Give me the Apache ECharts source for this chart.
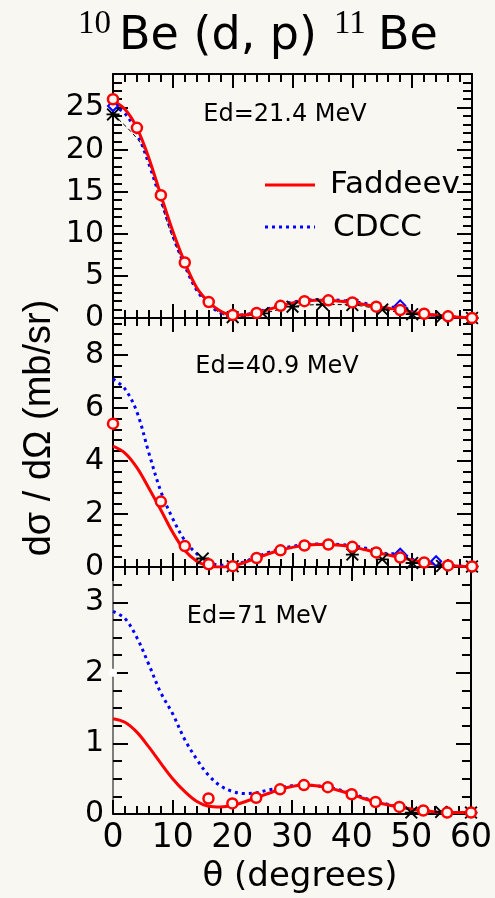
<!DOCTYPE html>
<html>
<head>
<meta charset="utf-8">
<script src="https://cdn.jsdelivr.net/npm/echarts@6/dist/echarts.min.js"></script>
<style>
  html, body { margin: 0; padding: 0; background: #f8f7f2; }
  #chart { width: 495px; height: 898px; }
</style>
</head>
<body>
<div id="chart"></div>
<script>
// Scattering angle grid for the calculated curves (degrees)
const angles = [0, 2, 4, 6, 8, 10, 12, 14, 16, 18, 20, 22, 24, 26, 28, 30,
                32, 34, 36, 38, 40, 42, 44, 46, 48, 50, 52, 54, 56, 58, 60];

// Ed = 21.4 MeV
const faddeev21 = [25.8, 24.8, 22.6, 19.0, 14.6, 10.3, 6.6, 3.6, 1.9, 0.8, 0.35,
                   0.35, 0.6, 1.0, 1.45, 1.8, 2.0, 2.1, 2.1, 2.0, 1.85, 1.6, 1.35,
                   1.15, 0.95, 0.7, 0.5, 0.35, 0.2, 0.1, 0.0];
const cdcc21 = [25.2, 24.3, 22.0, 18.3, 14.0, 9.8, 6.2, 3.3, 1.6, 0.6, 0.3,
                0.4, 0.7, 1.1, 1.55, 1.9, 2.1, 2.2, 2.2, 2.1, 1.95, 1.75, 1.45,
                1.2, 1.45, 0.75, 0.5, 0.3, 0.15, 0.08, 0.0];
const circAng21 = [0, 4, 8, 12, 16, 20, 24, 28, 32, 36, 40, 44, 48, 52, 56, 60];
const circ21 = [26.0, 22.6, 14.6, 6.6, 1.9, 0.35, 0.6, 1.45, 2.0, 2.1, 1.85, 1.35, 0.95, 0.5, 0.2, 0.0];
// dashed reference curve (5-degree steps) and its visible asterisk markers
const dashAng21 = [0, 5, 10, 15, 20, 25, 30, 35, 40, 45, 50, 55, 60];
const dash21 = [24.2, 20.3, 9.5, 2.4, 0.1, 0.55, 1.35, 1.6, 1.55, 1.0, 0.45, 0.15, 0.0];
const starAng21 = [0, 20, 25, 30, 35, 40, 45, 50, 55, 60];
const star21 = [24.2, 0.1, 0.55, 1.35, 1.6, 1.55, 1.0, 0.45, 0.15, 0.0];
const diaAng21 = [0, 48, 60];
const dia21 = [25.2, 1.5, 0.0];

// Ed = 40.9 MeV
const faddeev41 = [4.56, 4.3, 3.75, 2.97, 2.15, 1.3, 0.62, 0.22, 0.04, 0.0, 0.03,
                   0.17, 0.34, 0.5, 0.63, 0.74, 0.81, 0.85, 0.85, 0.82, 0.76, 0.66,
                   0.55, 0.45, 0.36, 0.26, 0.17, 0.1, 0.06, 0.03, 0.02];
const cdcc41 = [7.1, 6.72, 5.85, 4.3, 2.85, 1.82, 1.0, 0.5, 0.18, 0.07, 0.08,
                0.2, 0.38, 0.55, 0.68, 0.78, 0.84, 0.87, 0.87, 0.85, 0.8, 0.72,
                0.62, 0.5, 0.5, 0.3, 0.18, 0.22, 0.08, 0.04, 0.02];
const circAng41 = [0, 8, 12, 16, 20, 24, 28, 32, 36, 40, 44, 48, 52, 56, 60];
const circ41 = [5.41, 2.47, 0.79, 0.1, 0.03, 0.34, 0.63, 0.81, 0.85, 0.76, 0.55, 0.36, 0.17, 0.06, 0.02];
const starAng41 = [15, 20, 40, 45, 50, 55, 60];
const star41 = [0.32, 0.03, 0.47, 0.29, 0.15, 0.04, 0.02];
const diaAng41 = [48, 54, 60];
const dia41 = [0.5, 0.22, 0.02];

// Ed = 71 MeV
const faddeev71 = [1.35, 1.3, 1.16, 0.95, 0.72, 0.5, 0.32, 0.18, 0.11, 0.1, 0.12,
                   0.17, 0.23, 0.29, 0.35, 0.39, 0.41, 0.4, 0.37, 0.33, 0.28, 0.22,
                   0.17, 0.13, 0.1, 0.07, 0.05, 0.03, 0.02, 0.02, 0.02];
const cdcc71 = [2.87, 2.77, 2.5, 2.12, 1.72, 1.42, 1.06, 0.78, 0.55, 0.4, 0.32,
                0.29, 0.3, 0.34, 0.37, 0.4, 0.41, 0.4, 0.38, 0.34, 0.29, 0.23,
                0.18, 0.14, 0.1, 0.07, 0.05, 0.03, 0.02, 0.02, 0.02];
const circAng71 = [16, 20, 24, 28, 32, 36, 40, 44, 48, 52, 56, 60];
const circ71 = [0.22, 0.15, 0.23, 0.35, 0.41, 0.38, 0.28, 0.17, 0.1, 0.05, 0.02, 0.02];
const starAng71 = [50, 55, 60];
const star71 = [0.02, 0.03, 0.02];
const dotAng71 = [0];
const dot71 = [2.0];

// Axis ranges per panel
const panelLabels = ['Ed=21.4 MeV', 'Ed=40.9 MeV', 'Ed=71 MeV'];
const yMax = [29, 9.4, 3.5];
const yStep = [5, 2, 1];
const yMinorSplit = [5, 5, 4];
const xTicks = [0, 10, 20, 30, 40, 50, 60];

const BG = '#f8f7f2';
const FONT = 'DejaVu Sans';
const RED = '#ff0000';
const BLUE = '#0000ff';

const asterisk = 'path://M0,4.3 L10,4.3 L10,5.7 L0,5.7 Z M1,0 L10,9 L9,10 L0,1 Z M9,0 L10,1 L1,10 L0,9 Z';

const panels = [
  { top: 74, height: 244 },
  { top: 318, height: 249 },
  { top: 567, height: 247 }
];

const pairs = (xs, ys) => xs.map((x, k) => [x, ys[k]]);

const grids = [], xAxes = [], yAxes = [], series = [];

panels.forEach((p, i) => {
  grids.push({ left: 113, right: 23, top: p.top, height: p.height, containLabel: false });
  const common = {
    gridIndex: i, type: 'value', min: 0, max: 60, interval: 10,
    axisLine: { onZero: false, lineStyle: { color: '#000', width: 2 } },
    axisTick: { inside: true, length: 14, lineStyle: { color: '#000', width: 2 } },
    minorTick: { show: true, splitNumber: 5, length: 8, lineStyle: { color: '#000', width: 2 } },
    splitLine: { show: false }
  };
  xAxes.push(Object.assign({}, common, {
    position: 'bottom',
    axisLabel: {
      show: i === 2, color: '#000', fontFamily: FONT, fontSize: 33, margin: 8,
      formatter: v => (xTicks.indexOf(v) >= 0 ? String(v) : '')
    }
  }));
  xAxes.push(Object.assign({}, common, { position: 'top', axisLabel: { show: false } }));

  const ycommon = {
    gridIndex: i, type: 'value', min: 0, max: yMax[i], interval: yStep[i],
    axisLine: { onZero: false, lineStyle: { color: '#000', width: 2 } },
    axisTick: { inside: true, length: 15, lineStyle: { color: '#000', width: 2 } },
    minorTick: { show: true, splitNumber: yMinorSplit[i], length: 9, lineStyle: { color: '#000', width: 2 } },
    splitLine: { show: false }
  };
  yAxes.push(Object.assign({}, ycommon, {
    position: 'left',
    axisLine: { onZero: false, lineStyle: { color: i === 2 ? '#555' : '#000', width: i === 2 ? 1.5 : 2 } },
    axisLabel: { color: '#000', fontFamily: FONT, fontSize: 30, margin: 9, showMaxLabel: false }
  }));
  yAxes.push(Object.assign({}, ycommon, { position: 'right', axisLabel: { show: false } }));
});

function curve(i, xs, ys, style, z) {
  return {
    type: 'line', xAxisIndex: i * 2, yAxisIndex: i * 2, data: pairs(xs, ys),
    showSymbol: false, smooth: 0.35, lineStyle: style, z: z, silent: true, animation: false
  };
}
function marks(i, xs, ys, symbol, size, style, z) {
  return {
    type: 'scatter', xAxisIndex: i * 2, yAxisIndex: i * 2, data: pairs(xs, ys),
    symbol: symbol, symbolSize: size, itemStyle: Object.assign({ opacity: 1 }, style),
    z: z, silent: true, animation: false
  };
}

const fad = [faddeev21, faddeev41, faddeev71];
const cdcc = [cdcc21, cdcc41, cdcc71];
const circAng = [circAng21, circAng41, circAng71];
const circ = [circ21, circ41, circ71];
const starAng = [starAng21, starAng41, starAng71];
const stars = [star21, star41, star71];

// thin dashed curve in the first panel
series.push({
  type: 'line', xAxisIndex: 0, yAxisIndex: 0, data: pairs(dashAng21, dash21),
  showSymbol: false, smooth: 0.3, lineStyle: { color: '#000', width: 1, type: [4, 3] },
  z: 2, silent: true, animation: false
});

for (let i = 0; i < 3; i++) {
  series.push(curve(i, angles, cdcc[i], { color: BLUE, width: 3, type: [3, 4] }, 3));
  series.push(curve(i, angles, fad[i], { color: RED, width: 3 }, 4));
  series.push(marks(i, starAng[i], stars[i], asterisk, 13, { color: '#000' }, 5));
  series.push(marks(i, circAng[i], circ[i], 'circle', 10, { color: BG, borderColor: RED, borderWidth: 2.5 }, 6));
}
series.push(marks(0, diaAng21, dia21, 'diamond', 10, { color: BG, borderColor: BLUE, borderWidth: 2 }, 4));
series.push(marks(1, diaAng41, dia41, 'diamond', 10, { color: BG, borderColor: BLUE, borderWidth: 2 }, 4));
series.push(marks(2, dotAng71, dot71, 'circle', 8, { color: '#ffffff' }, 7));

const graphics = [
  // title
  { type: 'text', left: 78, top: 8, style: { text: '10', font: '33px "Liberation Serif"', fill: '#000' } },
  { type: 'text', left: 119, top: 14, style: { text: 'Be (d, p)', font: '46px "DejaVu Sans"', fill: '#000' } },
  { type: 'text', left: 334, top: 8, style: { text: '11', font: '33px "Liberation Serif"', fill: '#000' } },
  { type: 'text', left: 378, top: 14, style: { text: 'Be', font: '46px "DejaVu Sans"', fill: '#000' } },
  // axis titles
  { type: 'text', x: 40, y: 428, rotation: Math.PI / 2,
    style: { text: 'dσ / dΩ (mb/sr)', font: '38px "Liberation Sans"', fill: '#000', align: 'center', verticalAlign: 'middle' } },
  { type: 'text', x: 300, y: 877,
    style: { text: 'θ (degrees)', font: '34px ' + FONT, fill: '#000', align: 'center', verticalAlign: 'middle' } },
  // legend
  { type: 'line', shape: { x1: 265, y1: 185, x2: 315, y2: 185 }, style: { stroke: RED, lineWidth: 3 } },
  { type: 'line', shape: { x1: 265, y1: 227, x2: 315, y2: 227 }, style: { stroke: BLUE, lineWidth: 3, lineDash: [3, 4] } },
  { type: 'text', x: 330, y: 185, style: { text: 'Faddeev', font: '31px ' + FONT, fill: '#000', verticalAlign: 'middle' } },
  { type: 'text', x: 333, y: 228, style: { text: 'CDCC', font: '31px ' + FONT, fill: '#000', verticalAlign: 'middle' } }
];
const labelPos = [[285, 115], [277, 367], [257, 617]];
panelLabels.forEach((t, i) => {
  graphics.push({ type: 'text', x: labelPos[i][0], y: labelPos[i][1],
    style: { text: t, font: '24px ' + FONT, fill: '#000', align: 'center', verticalAlign: 'middle' } });
});

const chart = echarts.init(document.getElementById('chart'), null, { renderer: 'canvas' });
chart.setOption({
  backgroundColor: BG,
  animation: false,
  grid: grids,
  xAxis: xAxes,
  yAxis: yAxes,
  series: series,
  graphic: graphics
});
</script>
</body>
</html>
